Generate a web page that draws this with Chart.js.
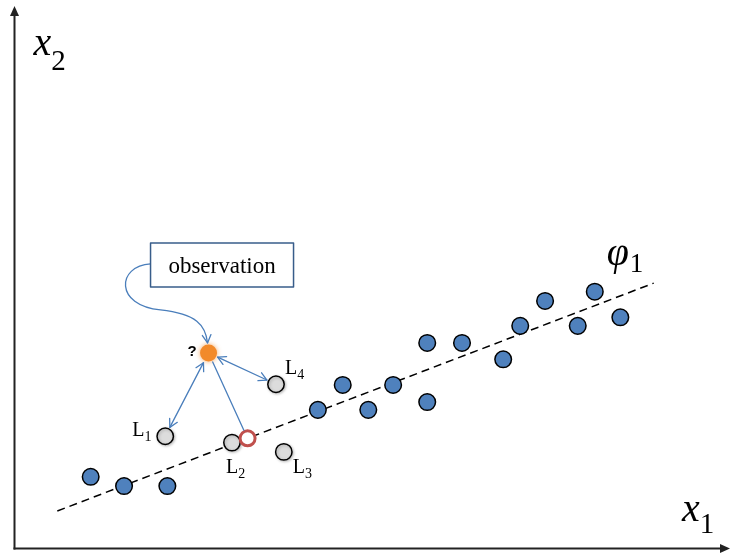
<!DOCTYPE html>
<html>
<head>
<meta charset="utf-8">
<script src="https://cdn.jsdelivr.net/npm/chart.js@4/dist/chart.umd.min.js"></script>
<style>
  html, body { margin: 0; padding: 0; background: #ffffff; }
  canvas { display: block; }
</style>
</head>
<body>
<canvas id="c" width="730" height="555"></canvas>
<script>
// Training samples lying near the principal direction
const blueX = [1.08, 1.55, 2.16, 4.28, 4.63, 4.99, 5.34, 5.82, 5.82, 6.31, 6.89, 7.13, 7.48, 7.94, 8.18, 8.54];
const blueY = [1.00, 0.87, 0.87, 1.94, 2.29, 1.94, 2.29, 2.88, 2.05, 2.88, 2.65, 3.12, 3.47, 3.12, 3.60, 3.24];

// Reference points L1..L4
const refNames = ['L1', 'L2', 'L3', 'L4'];
const refX = [2.13, 3.07, 3.80, 3.69];
const refY = [1.57, 1.48, 1.35, 2.30];

// New observation and its projection onto the principal axis
const obsX = [2.74];
const obsY = [2.74];
const projX = [3.29];
const projY = [1.54];

// Principal axis φ1 (two end points)
const axisX = [0.61, 9.01];
const axisY = [0.52, 3.72];

const axisName = 'φ1';
const xAxisName = 'x1';
const yAxisName = 'x2';
const calloutText = 'observation';
const unknownMark = '?';

const toPoints = (xs, ys) => xs.map((x, i) => ({ x: x, y: ys[i] }));

const ARROW_BLUE = '#4a7ebb';
const SERIF = '"Liberation Serif", "Times New Roman", serif';

function arrowHead(ctx, tipX, tipY, dirX, dirY, len) {
  const ang = Math.atan2(dirY, dirX);
  const spread = 0.5;
  ctx.beginPath();
  ctx.moveTo(tipX - len * Math.cos(ang - spread), tipY - len * Math.sin(ang - spread));
  ctx.lineTo(tipX, tipY);
  ctx.lineTo(tipX - len * Math.cos(ang + spread), tipY - len * Math.sin(ang + spread));
  ctx.stroke();
}

// straight connector between two circles, optional open heads at each end
function connector(ctx, a, b, ra, rb, headA, headB) {
  const dx = b.x - a.x, dy = b.y - a.y;
  const L = Math.hypot(dx, dy);
  const ux = dx / L, uy = dy / L;
  const sx = a.x + ux * ra, sy = a.y + uy * ra;
  const ex = b.x - ux * rb, ey = b.y - uy * rb;
  ctx.beginPath();
  ctx.moveTo(sx, sy);
  ctx.lineTo(ex, ey);
  ctx.stroke();
  if (headB) arrowHead(ctx, ex, ey, ux, uy, 9);
  if (headA) arrowHead(ctx, sx, sy, -ux, -uy, 9);
}

function subText(ctx, main, sub, x, y, mainFont, subFont, subDrop, gap) {
  ctx.font = mainFont;
  ctx.textAlign = 'left';
  ctx.textBaseline = 'alphabetic';
  ctx.fillText(main, x, y);
  const w = ctx.measureText(main).width;
  ctx.font = subFont;
  ctx.fillText(sub, x + w + (gap || 0), y + subDrop);
}

const diagram = {
  id: 'diagram',
  beforeDatasetsDraw(chart) {
    const ctx = chart.ctx;
    const xs = chart.scales.x, ys = chart.scales.y;
    const ox = xs.getPixelForValue(0) + 0.5;
    const oy = ys.getPixelForValue(0) + 0.5;
    ctx.save();
    ctx.strokeStyle = '#222222';
    ctx.fillStyle = '#222222';
    ctx.lineWidth = 2;
    // vertical axis
    ctx.beginPath();
    ctx.moveTo(ox, oy + 1);
    ctx.lineTo(ox, 14);
    ctx.stroke();
    ctx.beginPath();
    ctx.moveTo(ox, 6);
    ctx.lineTo(ox - 4.5, 16);
    ctx.lineTo(ox + 4.5, 16);
    ctx.closePath();
    ctx.fill();
    // horizontal axis
    ctx.beginPath();
    ctx.moveTo(ox - 1, oy);
    ctx.lineTo(722, oy);
    ctx.stroke();
    ctx.beginPath();
    ctx.moveTo(730, oy);
    ctx.lineTo(720, oy - 4.5);
    ctx.lineTo(720, oy + 4.5);
    ctx.closePath();
    ctx.fill();

    // axis names
    ctx.fillStyle = '#000000';
    subText(ctx, yAxisName[0], yAxisName.slice(1), ox + 19, 55,
      'italic 40px ' + SERIF, '29px ' + SERIF, 15, 0);
    subText(ctx, xAxisName[0], xAxisName.slice(1), 682, oy - 28,
      'italic 40px ' + SERIF, '29px ' + SERIF, 12, 0);
    ctx.restore();
  },
  afterDatasetsDraw(chart) {
    const ctx = chart.ctx;
    const xs = chart.scales.x, ys = chart.scales.y;
    const px = (x, y) => ({ x: xs.getPixelForValue(x), y: ys.getPixelForValue(y) });
    const obs = px(obsX[0], obsY[0]);
    const proj = px(projX[0], projY[0]);
    const refs = refX.map((x, i) => px(x, refY[i]));
    const axisEnd = px(axisX[1], axisY[1]);

    ctx.save();
    ctx.strokeStyle = ARROW_BLUE;
    ctx.lineWidth = 1.3;
    ctx.lineCap = 'round';
    ctx.lineJoin = 'round';

    // distances from the observation to its neighbours
    connector(ctx, obs, refs[0], 11, 10, true, true);
    connector(ctx, obs, refs[3], 10, 10, true, true);
    connector(ctx, proj, obs, 9, 10, false, false);

    // callout box and its curved leader
    const bw = 143, bh = 44;
    const bx = obs.x - 58, by = obs.y - 110;
    const lx = bx, ly = by + 21;
    ctx.beginPath();
    ctx.moveTo(lx, ly);
    ctx.bezierCurveTo(lx - 34, ly + 2, lx - 36, ly + 42, lx + 10, ly + 46);
    ctx.bezierCurveTo(lx + 46, ly + 50, obs.x - 3, obs.y - 28, obs.x - 1, obs.y - 10);
    ctx.stroke();
    arrowHead(ctx, obs.x - 1, obs.y - 10, 2, 18, 9);

    ctx.fillStyle = '#ffffff';
    ctx.fillRect(bx, by, bw, bh);
    ctx.strokeStyle = '#385d8a';
    ctx.lineWidth = 1.5;
    ctx.lineCap = 'butt';
    ctx.strokeRect(bx, by, bw, bh);
    ctx.fillStyle = '#000000';
    ctx.font = '23px ' + SERIF;
    ctx.textAlign = 'center';
    ctx.textBaseline = 'alphabetic';
    ctx.fillText(calloutText, bx + bw / 2, by + 30);

    // question mark beside the observation
    ctx.font = 'bold 15px "Liberation Sans", Arial, sans-serif';
    ctx.textAlign = 'right';
    ctx.fillText(unknownMark, obs.x - 12, obs.y + 3);

    // reference point names
    const offs = [[-33, 0], [-6, 30], [9, 21], [9, -10]];
    refs.forEach((p, i) => {
      subText(ctx, refNames[i][0], refNames[i].slice(1), p.x + offs[i][0], p.y + offs[i][1],
        '20px ' + SERIF, '14px ' + SERIF, 5, 0);
    });

    // principal axis name
    subText(ctx, axisName[0], axisName.slice(1), axisEnd.x - 47, axisEnd.y - 18,
      'italic 40px ' + SERIF, '27px ' + SERIF, 7, 1);
    ctx.restore();
  }
};

const glow = {
  id: 'glow',
  beforeDatasetDraw(chart, args) {
    const ds = chart.data.datasets[args.index];
    if (ds.glowColor) {
      chart.ctx.save();
      chart.ctx.shadowColor = ds.glowColor;
      chart.ctx.shadowBlur = ds.glowBlur || 4;
      chart.ctx.shadowOffsetX = ds.glowDx || 0;
      chart.ctx.shadowOffsetY = ds.glowDy || 0;
    }
  },
  afterDatasetDraw(chart, args) {
    const ds = chart.data.datasets[args.index];
    if (ds.glowColor) chart.ctx.restore();
  }
};

new Chart(document.getElementById('c'), {
  type: 'scatter',
  data: {
    datasets: [
      {
        label: 'observation',
        data: toPoints(obsX, obsY),
        pointRadius: 8.5,
        pointBackgroundColor: '#f28a2a',
        pointBorderWidth: 0,
        pointBorderColor: '#f28a2a',
        glowColor: 'rgba(240,130,30,0.7)',
        glowBlur: 5,
        order: 1
      },
      {
        label: 'projection',
        data: toPoints(projX, projY),
        pointRadius: 7.5,
        pointBackgroundColor: '#ffffff',
        pointBorderColor: '#c0504d',
        pointBorderWidth: 3,
        order: 2
      },
      {
        label: 'references',
        data: toPoints(refX, refY),
        pointRadius: 8.2,
        pointBackgroundColor: '#dcdcdc',
        pointBorderColor: '#000000',
        pointBorderWidth: 1.5,
        glowColor: 'rgba(0,0,0,0.25)',
        glowBlur: 3,
        glowDx: 1,
        glowDy: 1,
        order: 3
      },
      {
        label: 'samples',
        data: toPoints(blueX, blueY),
        pointRadius: 8.3,
        pointBackgroundColor: '#4f81bd',
        pointBorderColor: '#000000',
        pointBorderWidth: 1.5,
        order: 4
      },
      {
        type: 'line',
        label: 'principal axis',
        data: toPoints(axisX, axisY),
        borderColor: '#000000',
        borderWidth: 1.5,
        borderDash: [8, 5],
        pointRadius: 0,
        fill: false,
        order: 5
      }
    ]
  },
  options: {
    responsive: false,
    animation: false,
    devicePixelRatio: 1,
    layout: { autoPadding: false, padding: { left: 14, right: 6, top: 14, bottom: 7 } },
    plugins: { legend: { display: false }, tooltip: { enabled: false } },
    events: [],
    scales: {
      x: { type: 'linear', min: 0, max: 10, display: false },
      y: { type: 'linear', min: 0, max: 7.5, display: false }
    }
  },
  plugins: [glow, diagram]
});
</script>
</body>
</html>
